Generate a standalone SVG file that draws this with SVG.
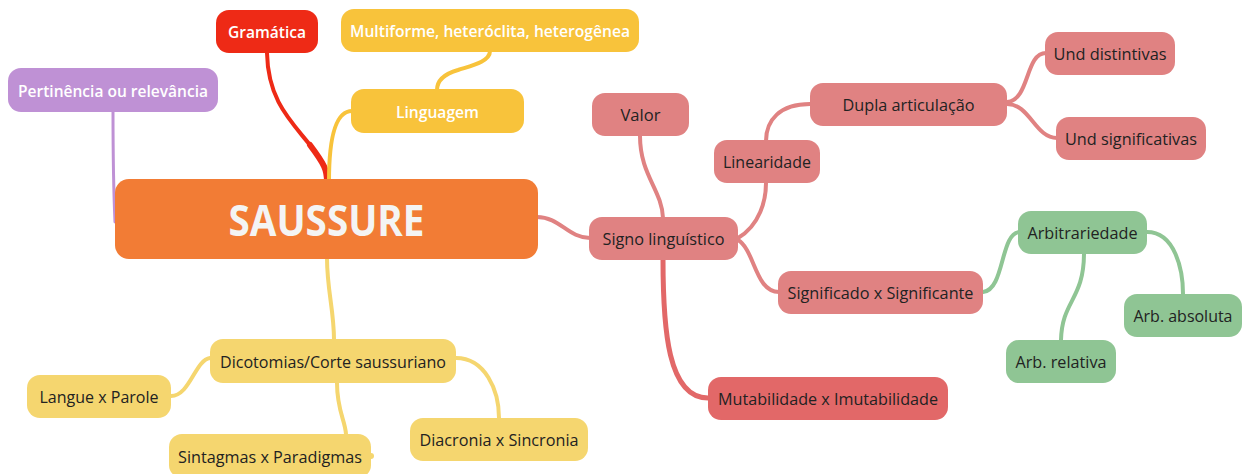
<svg xmlns="http://www.w3.org/2000/svg" width="1249" height="474" viewBox="0 0 1249 474">
<style>
text{font-family:"Open Sans","Noto Sans","Liberation Sans",sans-serif;font-size:17px;text-anchor:middle;dominant-baseline:central;fill:#222}
.w{fill:#fff;font-weight:600}
.big{font-size:43px;font-weight:700;fill:#f4f4f4}
.c{fill:none;stroke-linecap:round}
.pk{stroke:#e08282;stroke-width:4}
.gr{stroke:#8fc594;stroke-width:4}
.yl{stroke:#f5d66f;stroke-width:4}
</style>
<rect width="1249" height="474" fill="#fff"/>
<g id="connectors">
<path class="c" d="M113,111 C113,160 114,200 115,222" stroke="#bf91d5" stroke-width="3"/>
<path class="c" d="M267,53 C268,100 290,120 310,145 C325,165 327,170 327,182" stroke="#ee2a16" stroke-width="4"/>
<path class="c" d="M310,145 C325,165 327,170 327,182" stroke="#ee2a16" stroke-width="6"/>
<path class="c" d="M329,181 C329,140 335,111 352,111" stroke="#f8c33b" stroke-width="4"/>
<path class="c" d="M490,51 C490,62 470,66 458,70 C444,74 437,80 437,90" stroke="#f8c33b" stroke-width="4"/>
<path class="c pk" d="M537,217 C560,217 568,238 590,238" stroke-width="5"/>
<path class="c yl" d="M327,258 C327,290 334,310 334,340" stroke-width="5"/>
<path class="c yl" d="M210,358 C195,360 190,396 171,396"/>
<path class="c yl" d="M337,383 C337,410 345,420 346,434"/>
<path class="c yl" d="M456,358 C485,358 499,390 499,418"/>
<circle cx="371" cy="456" r="3" fill="#f5d66f"/>
<path class="c pk" d="M640,136 C640,175 662,190 663,218"/>
<path class="c" d="M663,259 C663,330 668,398 708,398" stroke="#e26868" stroke-width="5"/>
<path class="c pk" d="M738,238 C760,225 766,200 766,183"/>
<path class="c pk" d="M766,141 C766,120 780,104 810,104"/>
<path class="c pk" d="M1007,102 C1030,100 1025,53 1046,53"/>
<path class="c pk" d="M1007,104 C1030,104 1035,138 1057,138"/>
<path class="c pk" d="M738,240 C755,250 755,292 779,292"/>
<path class="c gr" d="M983,292 C1005,290 1000,232 1020,232"/>
<path class="c gr" d="M1084,253 C1084,300 1062,300 1061,340" stroke-width="5"/>
<path class="c gr" d="M1147,232 C1175,232 1183,270 1183,294"/>
</g>
<g id="n-gramatica"><rect x="216" y="10" width="102" height="43" rx="13" fill="#ee2a16"/><text class="w" x="267" y="31.5" textLength="78" lengthAdjust="spacingAndGlyphs">Gramática</text></g>
<g id="n-multiforme"><rect x="341" y="9" width="298" height="43" rx="13" fill="#f8c33b"/><text class="w" x="490" y="30.5" textLength="280" lengthAdjust="spacingAndGlyphs">Multiforme, heteróclita, heterogênea</text></g>
<g id="n-pertinencia"><rect x="8" y="68" width="210" height="44" rx="13" fill="#bf91d5"/><text class="w" x="113" y="90" textLength="190" lengthAdjust="spacingAndGlyphs">Pertinência ou relevância</text></g>
<g id="n-linguagem"><rect x="351" y="89" width="173" height="44" rx="13" fill="#f8c33b"/><text class="w" x="437.5" y="111" textLength="83" lengthAdjust="spacingAndGlyphs">Linguagem</text></g>
<g id="n-saussure"><rect x="115" y="179" width="423" height="80" rx="14" fill="#f27c35"/><text class="big" x="326.5" y="219" textLength="196" lengthAdjust="spacingAndGlyphs">SAUSSURE</text></g>
<g id="n-valor"><rect x="592" y="93" width="97" height="43" rx="13" fill="#e08282"/><text x="640.5" y="114.5" textLength="40" lengthAdjust="spacingAndGlyphs">Valor</text></g>
<g id="n-dupla"><rect x="810" y="83" width="197" height="43" rx="13" fill="#e08282"/><text x="908.5" y="104.5" textLength="132" lengthAdjust="spacingAndGlyphs">Dupla articulação</text></g>
<g id="n-distintivas"><rect x="1045" y="32" width="130" height="43" rx="13" fill="#e08282"/><text x="1110" y="53.5" textLength="113" lengthAdjust="spacingAndGlyphs">Und distintivas</text></g>
<g id="n-significativas"><rect x="1056" y="117" width="150" height="43" rx="13" fill="#e08282"/><text x="1131" y="138.5" textLength="132" lengthAdjust="spacingAndGlyphs">Und significativas</text></g>
<g id="n-linearidade"><rect x="714" y="140" width="106" height="43" rx="13" fill="#e08282"/><text x="767" y="161.5" textLength="88" lengthAdjust="spacingAndGlyphs">Linearidade</text></g>
<g id="n-signo"><rect x="589" y="217" width="149" height="43" rx="13" fill="#e08282"/><text x="663.5" y="238.5" textLength="122" lengthAdjust="spacingAndGlyphs">Signo linguístico</text></g>
<g id="n-significado"><rect x="778" y="271" width="205" height="43" rx="13" fill="#e08282"/><text x="880.5" y="292.5" textLength="186" lengthAdjust="spacingAndGlyphs">Significado x Significante</text></g>
<g id="n-arbitrariedade"><rect x="1018" y="211" width="129" height="43" rx="13" fill="#8fc594"/><text x="1082.5" y="232.5" textLength="110" lengthAdjust="spacingAndGlyphs">Arbitrariedade</text></g>
<g id="n-absoluta"><rect x="1124" y="294" width="118" height="43" rx="13" fill="#8fc594"/><text x="1183" y="315.5" textLength="99" lengthAdjust="spacingAndGlyphs">Arb. absoluta</text></g>
<g id="n-relativa"><rect x="1006" y="340" width="110" height="43" rx="13" fill="#8fc594"/><text x="1061" y="361.5" textLength="91" lengthAdjust="spacingAndGlyphs">Arb. relativa</text></g>
<g id="n-mutabilidade"><rect x="708" y="377" width="240" height="43" rx="13" fill="#e26868"/><text x="828" y="398.5" textLength="220" lengthAdjust="spacingAndGlyphs">Mutabilidade x Imutabilidade</text></g>
<g id="n-dicotomias"><rect x="210" y="339" width="246" height="44" rx="13" fill="#f5d66f"/><text x="333" y="361" textLength="226" lengthAdjust="spacingAndGlyphs">Dicotomias/Corte saussuriano</text></g>
<g id="n-langue"><rect x="27" y="375" width="144" height="43" rx="13" fill="#f5d66f"/><text x="99" y="396.5" textLength="119" lengthAdjust="spacingAndGlyphs">Langue x Parole</text></g>
<g id="n-sintagmas"><rect x="169" y="434" width="202" height="44" rx="13" fill="#f5d66f"/><text x="270" y="456" textLength="184" lengthAdjust="spacingAndGlyphs">Sintagmas x Paradigmas</text></g>
<g id="n-diacronia"><rect x="410" y="418" width="178" height="43" rx="13" fill="#f5d66f"/><text x="499" y="439.5" textLength="159" lengthAdjust="spacingAndGlyphs">Diacronia x Sincronia</text></g>
</svg>
